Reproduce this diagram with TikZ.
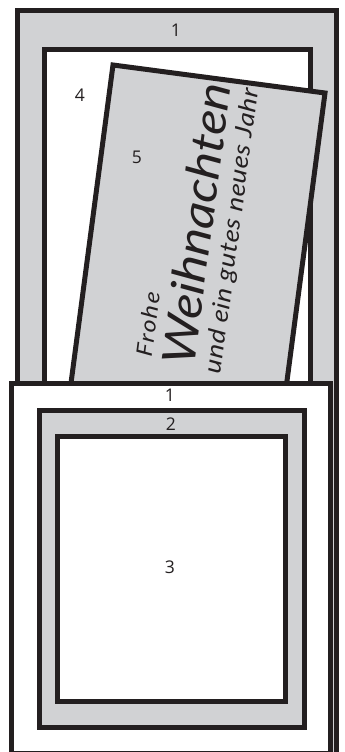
\documentclass[tikz,border=0pt]{standalone}
\usepackage{fontspec}
\setsansfont{Open Sans}
\newfontfamily\cardfont{Lato}[FakeStretch=1.12]
\usetikzlibrary{positioning}
\definecolor{board}{RGB}{209,210,212}
\definecolor{ink}{RGB}{35,31,32}

\begin{document}
\begin{tikzpicture}[x=1pt, y=-1pt, font=\sffamily\fontsize{17.5}{17.5}\selectfont,
    frame/.style={draw=ink, line width=5pt},
    num/.style={inner sep=0pt, text=ink},
    verse/.style={rotate=82.5, inner sep=0pt, text=ink}]
    \useasboundingbox (0,0) rectangle (345,752);
    \draw[frame, fill=board] (17.5,10.5) rectangle (336.5,800);
    \draw[frame, fill=white] (44.5,50) rectangle (310.5,420);
    \draw[frame, fill=board] (113,65) -- (325,93) -- (280.5,430) -- (68.5,402) -- cycle;
    \node[verse, font=\cardfont\itshape\addfontfeatures{LetterSpace=8}\fontsize{22}{22}\selectfont] (frohe) at (148,324) {Frohe};
    \node[verse, font=\cardfont\itshape\fontsize{46}{46}\selectfont] (fest) at (196,224) {Weihnachten};
    \node[verse, font=\cardfont\itshape\addfontfeatures{LetterSpace=3}\fontsize{24}{24}\selectfont] (wunsch) at (233,231) {und ein gutes neues Jahr};
    \draw[frame, fill=white] (11.5,383.5) rectangle (330.5,753.5);
    \draw[frame, fill=board] (39,410) rectangle (304,727);
    \draw[frame, fill=white] (57,436) rectangle (285,701);
    \foreach \p/\t/\n in {{176,30}/1/back, {80,95}/4/slot, {137,157}/5/card, {170,395}/1/front, {171,424}/2/mat, {170,567}/3/window} {
        \node[num] (\n) at (\p) {\t};
    }
\end{tikzpicture}
\end{document}
